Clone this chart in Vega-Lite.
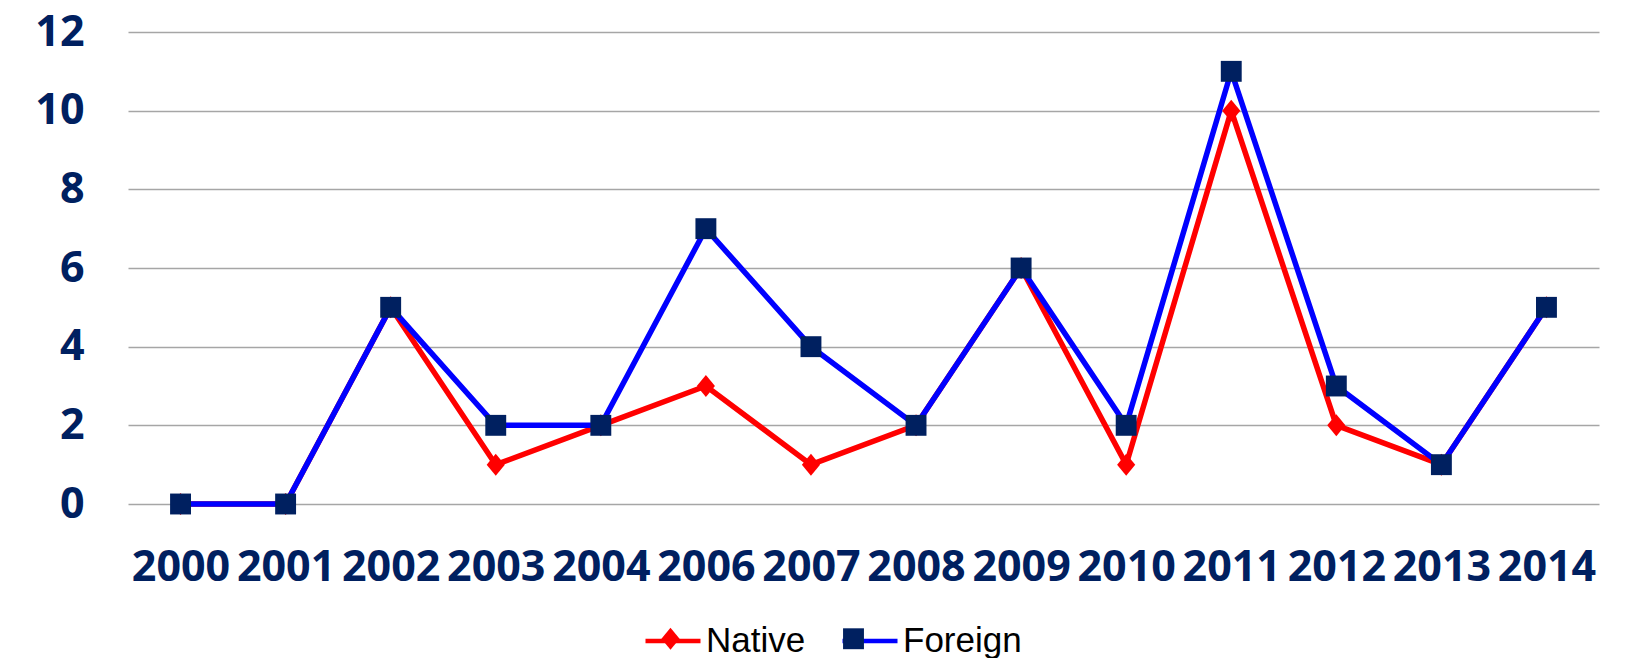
{
  "$schema": "https://vega.github.io/schema/vega-lite/v6.json",
  "autosize": {"type": "none"},
  "width": 1471,
  "height": 472,
  "padding": {"left": 128, "top": 32, "right": 36, "bottom": 154},
  "background": "white",
  "data": {
    "values": [
      {"year": "2000", "series": "Native", "value": 0},
      {"year": "2001", "series": "Native", "value": 0},
      {"year": "2002", "series": "Native", "value": 5},
      {"year": "2003", "series": "Native", "value": 1},
      {"year": "2004", "series": "Native", "value": 2},
      {"year": "2006", "series": "Native", "value": 3},
      {"year": "2007", "series": "Native", "value": 1},
      {"year": "2008", "series": "Native", "value": 2},
      {"year": "2009", "series": "Native", "value": 6},
      {"year": "2010", "series": "Native", "value": 1},
      {"year": "2011", "series": "Native", "value": 10},
      {"year": "2012", "series": "Native", "value": 2},
      {"year": "2013", "series": "Native", "value": 1},
      {"year": "2014", "series": "Native", "value": 5},
      {"year": "2000", "series": "Foreign", "value": 0},
      {"year": "2001", "series": "Foreign", "value": 0},
      {"year": "2002", "series": "Foreign", "value": 5},
      {"year": "2003", "series": "Foreign", "value": 2},
      {"year": "2004", "series": "Foreign", "value": 2},
      {"year": "2006", "series": "Foreign", "value": 7},
      {"year": "2007", "series": "Foreign", "value": 4},
      {"year": "2008", "series": "Foreign", "value": 2},
      {"year": "2009", "series": "Foreign", "value": 6},
      {"year": "2010", "series": "Foreign", "value": 2},
      {"year": "2011", "series": "Foreign", "value": 11},
      {"year": "2012", "series": "Foreign", "value": 3},
      {"year": "2013", "series": "Foreign", "value": 1},
      {"year": "2014", "series": "Foreign", "value": 5}
    ]
  },
  "config": {
    "view": {"stroke": null},
    "axis": {
      "labelFont": "Open Sans",
      "labelFontWeight": "bold",
      "labelFontSize": 43,
      "labelColor": "#002060",
      "domain": false,
      "ticks": false,
      "title": null
    }
  },
  "encoding": {
    "x": {
      "field": "year",
      "type": "ordinal",
      "sort": null,
      "scale": {"type": "point", "padding": 0.5},
      "axis": {"labelAngle": 0, "labelPadding": 42, "grid": false}
    },
    "y": {
      "field": "value",
      "type": "quantitative",
      "scale": {"domain": [0, 12], "nice": false},
      "axis": {
        "values": [0, 2, 4, 6, 8, 10, 12],
        "labelPadding": 44,
        "grid": true,
        "gridColor": "#a6a6a6",
        "gridWidth": 1.5
      }
    }
  },
  "layer": [
    {
      "mark": {"type": "line", "strokeWidth": 5.5},
      "encoding": {
        "color": {
          "field": "series",
          "type": "nominal",
          "sort": ["Native", "Foreign"],
          "scale": {"range": ["#FF0000", "#0000FF"]},
          "legend": {
            "orient": "none",
            "legendX": 515,
            "legendY": 579,
            "direction": "horizontal",
            "title": null,
            "padding": 0,
            "symbolSize": 3025,
            "symbolStrokeWidth": 4.5,
            "symbolType": "M-1,0L1,0",
            "labelFont": "Liberation Sans",
            "labelFontSize": 35,
            "labelColor": "#000000",
            "labelOffset": 3,
            "columnPadding": 27
          }
        },
        "order": {"field": "series", "sort": "descending"}
      }
    },
    {
      "mark": {"type": "point", "filled": true, "opacity": 1, "strokeWidth": 0, "size": 3025},
      "encoding": {
        "fill": {
          "field": "series",
          "type": "nominal",
          "scale": {"domain": ["Native", "Foreign"], "range": ["#FF0000", "#002060"]},
          "legend": {
            "orient": "none",
            "legendX": 515,
            "legendY": 579,
            "direction": "horizontal",
            "title": null,
            "padding": 0,
            "symbolSize": 3025,
            "symbolStrokeWidth": 0,
            "labelFont": "Liberation Sans",
            "labelFontSize": 35,
            "labelExpr": "''",
            "labelOffset": 3,
            "columnPadding": 125
          }
        },
        "shape": {
          "field": "series",
          "type": "nominal",
          "scale": {"domain": ["Native", "Foreign"], "range": ["M0,-0.4L0.33,0L0,0.4L-0.33,0Z", "M-0.38,-0.38L0.38,-0.38L0.38,0.38L-0.38,0.38Z"]}
        }
      }
    }
  ]
}
